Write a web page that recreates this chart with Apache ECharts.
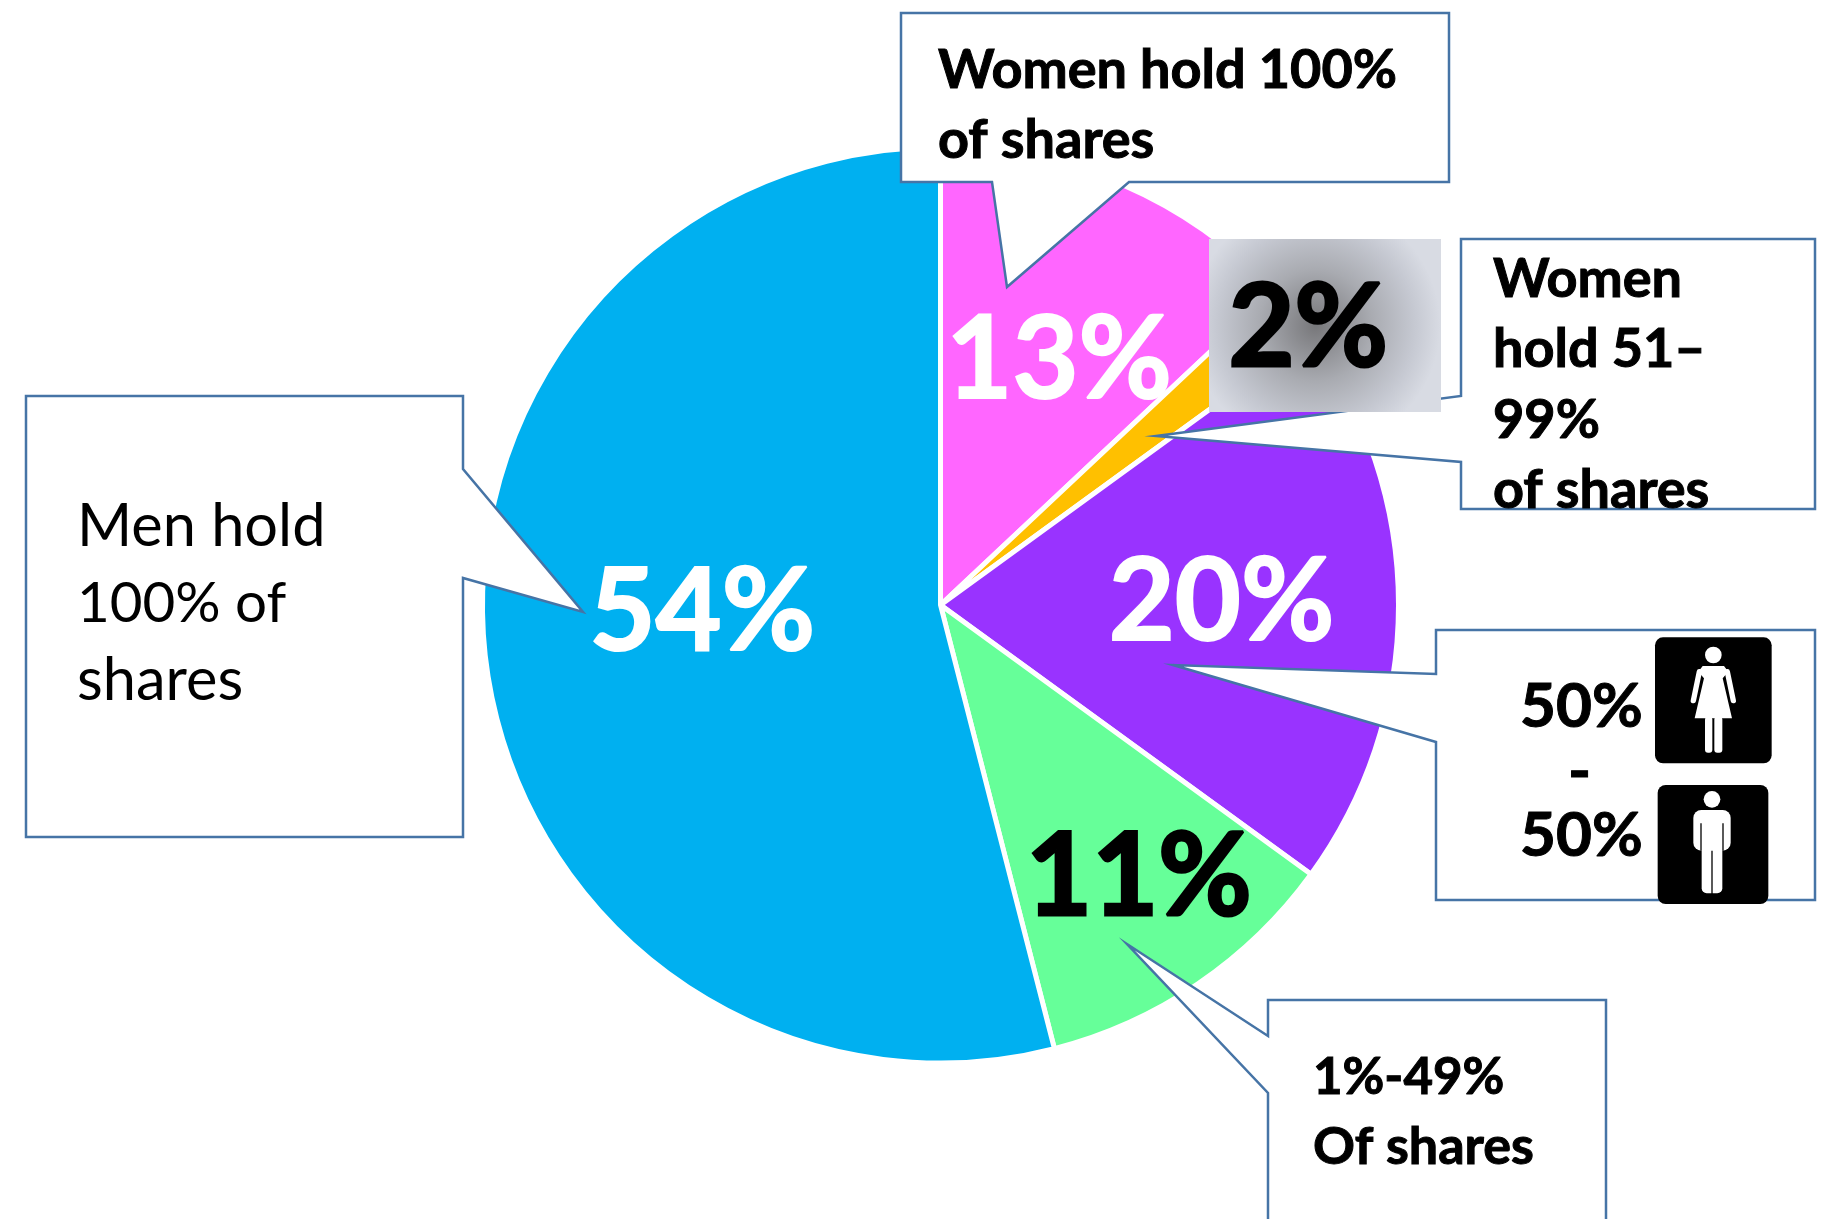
<!DOCTYPE html>
<html><head><meta charset="utf-8">
<style>html,body{margin:0;padding:0;background:#fff}#c{width:1825px;height:1219px}</style>
<script src="https://cdn.jsdelivr.net/npm/echarts@6/dist/echarts.min.js"></script>
</head><body><div id="c"></div>
<script>
const categories = ['Women hold 100% of shares','Women hold 51–99% of shares','50%-50%','1%-49% of shares','Men hold 100% of shares'];
const shareValues = [13, 2, 20, 11, 54];
const sliceColors = ['#FF66FF','#FFC000','#9933FF','#66FF99','#00B0F0'];
const labelColors = ['#fff','#000','#fff','#000','#fff'];
const labelNudge = [[26.5,-31],[189,-128],[49,-2],[68,81],[-8,-21]];
const FONT = 'Lato';
const LINE = '#4674A6';

const chart = echarts.init(document.getElementById('c'), null, {renderer:'canvas'});
const pieData = categories.map((n,i)=>({name:n,value:shareValues[i],
  itemStyle:{color:sliceColors[i]},
  label:{color:labelColors[i],textBorderColor:labelColors[i],textBorderWidth:labelColors[i]==='#000'?3:2}}));

const callouts = [
  [[901,13],[1449,13],[1449,182],[1129,182],[1007,287],[992,182],[901,182]],
  [[1461,239],[1815,239],[1815,509],[1461,509],[1461,462],[1156,436],[1461,396]],
  [[1436,630],[1815,630],[1815,900],[1436,900],[1436,742],[1173,665],[1436,674]],
  [[1268,1000],[1606,1000],[1606,1240],[1268,1240],[1268,1093],[1127,944],[1268,1036]],
  [[26,396],[463,396],[463,469],[583,612],[463,578],[463,837],[26,837]]
];
const texts = [
  ['Women hold 100%',938,71,54,'bold'],['of shares',938,141,54,'bold'],
  ['Women',1493,280,54,'bold'],['hold 51–',1493,350,54,'bold'],['99%',1493,421,54,'bold'],['of shares',1493,491,54,'bold'],
  ['1%-49%',1313,1078,51,'bold'],['Of shares',1313,1147,52,'bold'],
  ['Men hold',77,527,59.5,'normal'],['100% of',77,604,56.5,'normal'],['shares',77,681,59.5,'normal'],
  ['50%',1520,707,62,'bold'],['-',1568,772,62,'bold'],['50%',1520,836,62,'bold']
];
const zp = (x,y)=>[1400+x/3, 610+y/3];
const zpts = a=>a.map(p=>zp(p[0],p[1]));
const Z = 6;
function rr(x0,y0,x1,y1,r,fill,z){const a=zp(x0,y0),b=zp(x1,y1);
  return {type:'rect',z:z||Z+1,shape:{x:a[0],y:a[1],width:b[0]-a[0],height:b[1]-a[1],r:r},style:{fill:fill||'#fff'},silent:true};}
function circ(x,y,r){const a=zp(x,y);return {type:'circle',z:Z+1,shape:{cx:a[0],cy:a[1],r:r/3},style:{fill:'#fff'},silent:true};}
function poly(pts,fill){return {type:'polygon',z:Z+1,shape:{points:zpts(pts)},style:{fill:fill||'#fff'},silent:true};}
function seg(a,b,w){const p=zp(a[0],a[1]),q=zp(b[0],b[1]);
  return {type:'line',z:Z+1,shape:{x1:p[0],y1:p[1],x2:q[0],y2:q[1]},style:{stroke:'#fff',lineWidth:w/3,lineCap:'round'},silent:true};}

const icons = [
  rr(765,82,1115,460,8,'#000',Z),
  circ(940,135,25),
  poly([[908,168],[972,168],[985,185],[968,205],[996,325],[884,325],[912,205],[895,185]]),
  seg([898,185],[880,272],16), seg([982,185],[1000,272],16),
  rr(915,320,937,428,3), rr(943,320,967,428,3),
  rr(773,525,1105,882,8,'#000',Z),
  circ(936,568,25),
  rr(880,600,992,722,8),
  rr(905,700,967,850,5),
  {type:'line',z:Z+2,shape:{x1:zp(903,640)[0],y1:zp(903,640)[1],x2:zp(903,722)[0],y2:zp(903,722)[1]},style:{stroke:'#000',lineWidth:1.3},silent:true},
  {type:'line',z:Z+2,shape:{x1:zp(969,640)[0],y1:zp(969,640)[1],x2:zp(969,722)[0],y2:zp(969,722)[1]},style:{stroke:'#000',lineWidth:1.3},silent:true},
  {type:'line',z:Z+2,shape:{x1:zp(936,722)[0],y1:zp(936,722)[1],x2:zp(936,852)[0],y2:zp(936,852)[1]},style:{stroke:'#000',lineWidth:1.3},silent:true}
];

const graphics = [];
callouts.forEach(pts=>graphics.push({type:'polygon',z:5,shape:{points:pts},
  style:{fill:'#fff',stroke:LINE,lineWidth:2.5,lineJoin:'miter'},silent:true}));
graphics.push({type:'rect',z:5,shape:{x:1209,y:239,width:232,height:173},silent:true,
  style:{fill:new echarts.graphic.RadialGradient(0.46,0.5,0.72,[
    {offset:0,color:'#77777a'},{offset:0.45,color:'#a9abb1'},{offset:0.8,color:'#c6c9d2'},{offset:1,color:'#d8dbe3'}])}});
texts.forEach(t=>graphics.push({type:'text',z:Z,x:t[1],y:t[2],silent:true,
  style:{text:t[0],fontFamily:FONT,fontWeight:t[4],fontSize:t[3],fill:'#000',
    stroke:t[4]==='bold'?'#000':null,lineWidth:t[4]==='bold'?1:0,
    textVerticalAlign:'middle',textAlign:'left'}}));
icons.forEach(e=>graphics.push(e));

chart.setOption({
  animation:false,
  backgroundColor:'#fff',
  graphic:{elements:graphics},
  series:[
    {type:'pie',z:2,center:[940.5,605],radius:[0,458],startAngle:90,silent:true,sort:null,
     itemStyle:{borderColor:'#fff',borderWidth:5},
     label:{show:false},labelLine:{show:false},
     data:pieData.map(d=>({name:d.name,value:d.value,itemStyle:d.itemStyle}))},
    {type:'pie',z:10,center:[940.5,605],radius:[0,458],startAngle:90,silent:true,sort:null,
     avoidLabelOverlap:false,
     itemStyle:{color:'transparent',borderWidth:0},
     label:{show:true,position:'inside',formatter:'{c}%',fontFamily:FONT,fontWeight:'bold',fontSize:114},
     labelLine:{show:false},
     labelLayout:p=>({dx:labelNudge[p.dataIndex][0],dy:labelNudge[p.dataIndex][1]}),
     data:pieData.map(d=>({name:d.name,value:d.value,label:d.label,itemStyle:{color:'transparent'}}))}
  ]
});
</script></body></html>
